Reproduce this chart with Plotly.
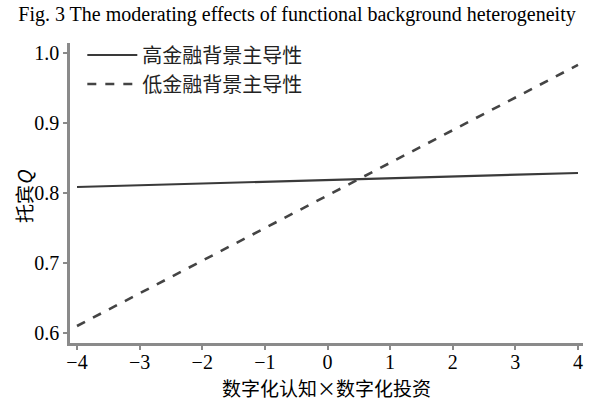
import plotly.graph_objects as go

x_vals = [-4, 4]
high_fin = [0.8086, 0.8286]
low_fin = [0.610, 0.983]
series_names = ["高金融背景主导性", "低金融背景主导性"]
x_ticks = [-4, -3, -2, -1, 0, 1, 2, 3, 4]
x_tick_text = ["\u22124", "\u22123", "\u22122", "\u22121", "0", "1", "2", "3", "4"]
y_ticks = [0.6, 0.7, 0.8, 0.9, 1.0]
y_tick_text = ["0.6", "0.7", "0.8", "0.9", "1.0"]
x_title = "数字化认知×数字化投资"
y_title = "托宾<i>Q</i>"
fig_title = "Fig. 3 The moderating effects of functional background heterogeneity"

fig = go.Figure()
fig.add_trace(go.Scatter(x=x_vals, y=high_fin, mode="lines", name=series_names[0],
                         line=dict(color="#3a3a3a", width=2.2)))
fig.add_trace(go.Scatter(x=x_vals, y=low_fin, mode="lines", name=series_names[1],
                         line=dict(color="#444444", width=2.6, dash="dash")))

serif = "Liberation Serif, Noto Sans CJK SC, serif"
cjk = "Noto Sans CJK SC"
W, H = 593, 401
fig.update_layout(
    width=W, height=H,
    margin=dict(l=70, r=10, t=43, b=58, autoexpand=False),
    paper_bgcolor="white", plot_bgcolor="white",
    title=dict(text=fig_title, x=297 / W, xanchor="center", xref="container",
               y=1 - 14 / H, yanchor="middle",
               font=dict(family=serif, size=20, color="black")),
    font=dict(family=serif, color="black"),
    legend=dict(x=0.024, y=1.025, xanchor="left", yanchor="top",
                bgcolor="rgba(0,0,0,0)", font=dict(family=cjk, size=20, color="#222"),
                tracegroupgap=0, itemwidth=50),
    xaxis=dict(range=[-4.112, 4.08], tickvals=x_ticks, ticktext=x_tick_text,
               showline=True, linecolor="#8a8a8a", linewidth=2.5, mirror=False,
               ticks="outside", ticklen=4, tickcolor="#8a8a8a", tickwidth=1.5,
               showgrid=False, zeroline=False, automargin=False, ticklabelstandoff=-5,
               tickfont=dict(family=serif, size=20, color="black")),
    yaxis=dict(range=[0.5857, 1.0143], tickvals=y_ticks, ticktext=y_tick_text,
               showline=True, linecolor="#8a8a8a", linewidth=2.5,
               ticks="outside", ticklen=4, tickcolor="#8a8a8a", tickwidth=1.5,
               showgrid=False, zeroline=False, automargin=False,
               tickfont=dict(family=serif, size=20, color="black")),
    annotations=[
        dict(text=x_title, xref="paper", yref="paper", x=(326 - 70) / 513, y=-(387 - 343) / 300,
             xanchor="center", yanchor="middle", showarrow=False,
             font=dict(family=cjk, size=19, color="black")),
        dict(text=y_title, xref="paper", yref="paper", x=-(70 - 23) / 513, y=(343 - 196) / 300,
             xanchor="center", yanchor="middle", textangle=-90, showarrow=False,
             font=dict(family=cjk, size=19, color="black")),
    ],
)

fig.write_html("out.html", config={"displayModeBar": False},
               post_script="document.body.style.margin='0';")
